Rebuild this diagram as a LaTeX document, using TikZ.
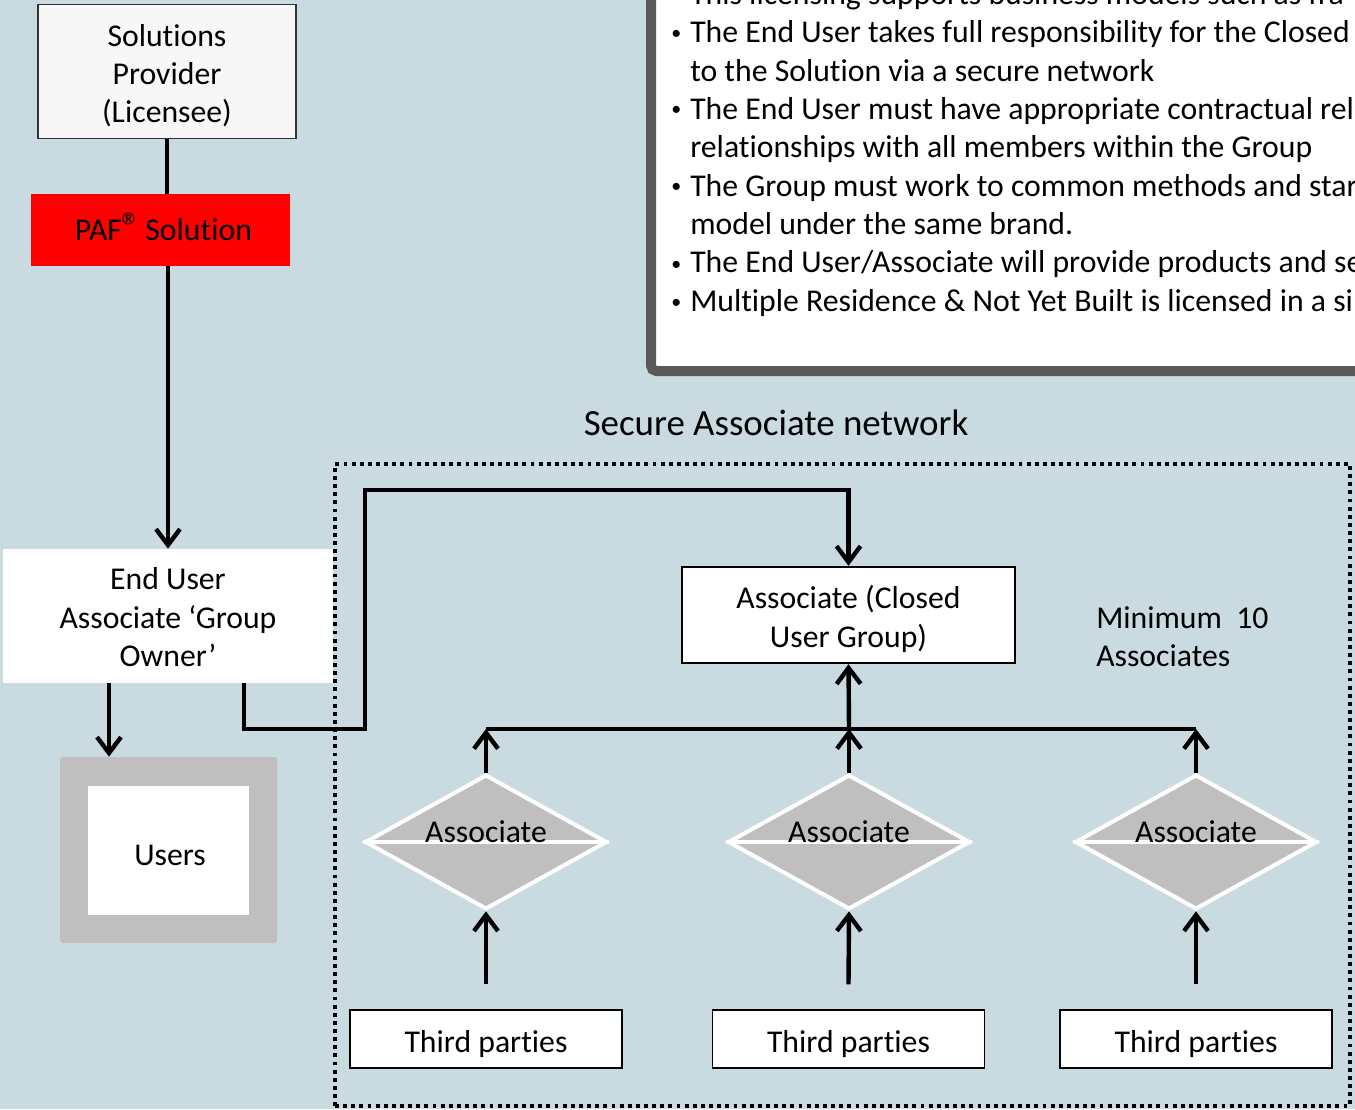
\documentclass[tikz,border=0pt]{standalone}
\usepackage{fontspec}
\setmainfont[Ligatures=NoCommon]{Carlito}
\usetikzlibrary{arrows.meta,shapes.geometric}
\definecolor{bg}{RGB}{201,219,224}
\definecolor{boxgray}{RGB}{191,191,191}
\definecolor{framegray}{RGB}{89,89,89}
\definecolor{spfill}{RGB}{247,247,247}
\definecolor{pafred}{RGB}{255,0,0}
\begin{document}
\begin{tikzpicture}[x=0.75pt,y=-0.75pt,
  txt/.style={font=\fontsize{23.8}{28.7}\selectfont, align=center, text=black, inner sep=0pt},
  plainbox/.style={rectangle, inner sep=0pt},
  arr/.style={line width=3.3pt, -{Straight Barb[length=12pt,width=18pt]}},
  link/.style={line width=3.3pt},
  assoc/.style={shape=diamond, draw=white, fill=boxgray, line width=3pt,
     minimum width=181.5pt, minimum height=101pt, inner sep=0pt, aspect=1.79},
  tpbox/.style={plainbox, draw=black, line width=0.9pt, fill=white,
     minimum width=204pt, minimum height=43.5pt},
  bline/.style={txt, anchor=base west, align=left},
  bul/.style={anchor=base west, inner sep=0pt, font=\fontsize{15}{15}\selectfont}
]
\clip (0,0) rectangle (1355,1109);
\fill[bg] (0,0) rectangle (1355,1109);

% notes box (top right)
\draw[framegray, line width=7.5pt, fill=white, rounded corners=4pt] (651,-40) rectangle (1420,371);
\node[bline] (t0) at (690,4.2) {This licensing supports business models such as fra};
\node[bul] (b1) at (671,40) {•};
\node[bline] (t1) at (690,43) {The End User takes full responsibility for the Closed};
\node[bline] (t2) at (690,81.3) {to the Solution via a secure network};
\node[bul] (b2) at (671,116) {•};
\node[bline] (t3) at (690,119.6) {The End User must have appropriate contractual rel};
\node[bline] (t4) at (690,157.9) {relationships with all members within the Group};
\node[bul] (b3) at (671,193) {•};
\node[bline] (t5) at (690,196.2) {The Group must work to common methods and star};
\node[bline] (t6) at (690,234.5) {model under the same brand.};
\node[bul] (b4) at (671,270) {•};
\node[bline] (t7) at (690,272.8) {The End User/Associate will provide products and se};
\node[bul] (b5) at (671,308) {•};
\node[bline] (t8) at (690,311.1) {Multiple Residence \& Not Yet Built is licensed in a si};

% left column
\node[plainbox, draw=black!80, line width=0.9pt, fill=spfill,
      minimum width=193.5pt, minimum height=101pt] (sp) at (167,71.5) {};
\node[txt] (sp-t) at ([yshift=-3pt]sp.center) {Solutions\\Provider\\(Licensee)};
\node[plainbox, fill=pafred, minimum width=194pt, minimum height=54pt] (paf) at (160.5,230) {};
\node[txt, anchor=base] (paf-t) at ([xshift=2.25pt,yshift=-8pt]paf.center)
      {PAF{\fontsize{30}{30}\selectfont ®}\kern-3pt\ Solution};
\node[plainbox, fill=white, minimum width=247.5pt, minimum height=100.5pt] (eu) at (168,616) {};
\node[txt] (eu-t) at ([yshift=-1pt]eu.center) {End User\\Associate ‘Group\\Owner’};
\node[plainbox, fill=boxgray, rounded corners=2pt, minimum width=162.75pt, minimum height=139.5pt] (uo) at (168.5,850) {};
\node[plainbox, fill=white, minimum width=120.75pt, minimum height=96.75pt] (users) at (168.5,850.5) {};
\node[txt] (users-t) at ([xshift=1.2pt,yshift=-3.5pt]users.center) {Users};

\draw[link] (sp.south) -- (sp.south |- paf.north);
\draw[arr] ([xshift=0.75pt]sp.south |- paf.south) -- ([xshift=0.75pt]sp.south |- eu.north);
\draw[arr] ([xshift=-44.25pt]eu.south) -- ([xshift=-44.25pt]eu.south |- uo.north);

% network
\node[txt, font=\fontsize{27.7}{33}\selectfont] (title) at (776,423) {Secure Associate network};
\node[plainbox, draw=black, line width=1.8pt, fill=white, minimum width=249.75pt, minimum height=72pt] (cug) at (848.5,615) {};
\node[txt] (cug-t) at ([yshift=-3pt]cug.center) {Associate (Closed\\User Group)};
\node[txt, anchor=west, align=left] (min) at (1096,637) {Minimum~ 10\\Associates};

\coordinate (k1) at (365,729);
\coordinate (k2) at (365,490);
\draw[arr] ([xshift=57pt]eu.south) |- (k1) -- (k2) -| (cug.north);

\node[assoc] (a1) at (486,842) {};
\node[assoc] (a2) at (849,842) {};
\node[assoc] (a3) at (1196,842) {};
\foreach \a in {a1,a2,a3}{
  \draw[white, line width=3pt] (\a.west) -- (\a.east);
  \node[txt] (\a-lab) at ([yshift=8pt]\a.center) {Associate};
}

\coordinate (bar) at (0,729);
\draw[link] (a1.north |- bar) -- (a3.north |- bar);
\draw[arr] (a1.north) -- (a1.north |- bar);
\draw[arr] (a2.north) -- (a2.north |- bar);
\draw[arr] (a3.north) -- (a3.north |- bar);
\draw[arr] (a2.north |- bar) -- (cug.south);

\node[tpbox] (tp1) at (486,1039) {};
\node[tpbox] (tp2) at (848.5,1039) {};
\node[tpbox] (tp3) at (1196,1039) {};
\foreach \t in {tp1,tp2,tp3}{
  \node[txt] (\t-t) at ([yshift=-3.5pt]\t.center) {Third parties};
}
\draw[arr] ([yshift=18.75pt]tp1.north) -- (a1.south);
\draw[arr] ([yshift=18.75pt]tp2.north) -- (a2.south);
\draw[arr] ([yshift=18.75pt]tp3.north) -- (a3.south);

\node[draw=black, line width=2.9pt, dash pattern=on 2.9pt off 3.2pt, inner sep=0pt,
      minimum width=761.25pt, minimum height=481.5pt] (net) at (842.5,785) {};
\end{tikzpicture}
\end{document}
